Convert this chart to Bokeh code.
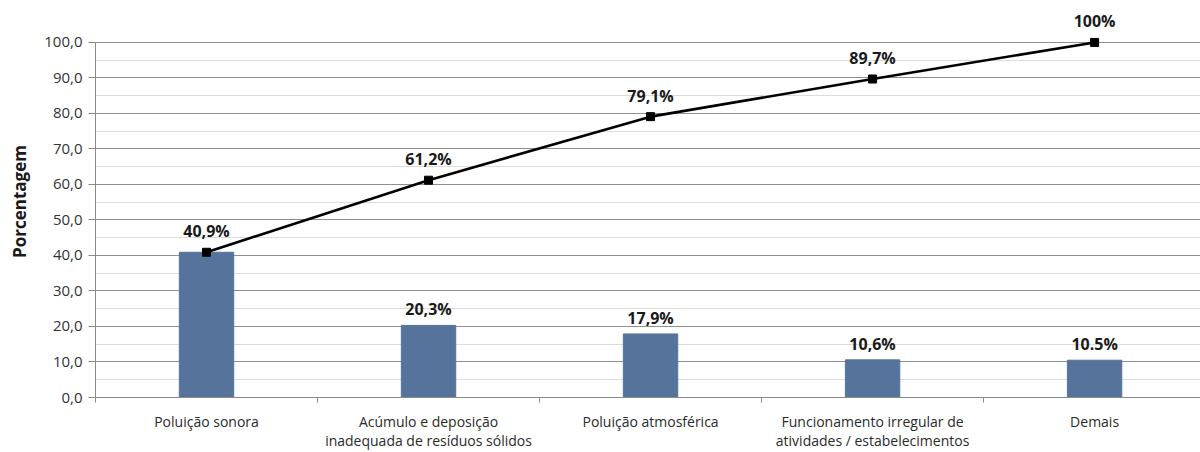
from bokeh.plotting import figure
from bokeh.models import Range1d, FixedTicker, ColumnDataSource, LabelSet
from bokeh.core.properties import value
from bokeh.embed import file_html
from bokeh.resources import INLINE

# Pareto data: share of complaints per category and running total (%)
categories = [
    "Poluição sonora",
    "Acúmulo e deposição\ninadequada de resíduos sólidos",
    "Poluição atmosférica",
    "Funcionamento irregular de\natividades / estabelecimentos",
    "Demais",
]
shares = [40.9, 20.3, 17.9, 10.6, 10.5]
share_labels = ["", "20,3%", "17,9%", "10,6%", "10.5%"]
cumulative = [40.9, 61.2, 79.1, 89.7, 100.0]
cumulative_labels = ["40,9%", "61,2%", "79,1%", "89,7%", "100%"]
y_ticks = [0, 10, 20, 30, 40, 50, 60, 70, 80, 90, 100]
y_tick_labels = ["0,0", "10,0", "20,0", "30,0", "40,0", "50,0",
                 "60,0", "70,0", "80,0", "90,0", "100,0"]

FONT = "Open Sans"
positions = [i + 0.5 for i in range(len(categories))]

src = ColumnDataSource(dict(
    x=positions, share=shares, share_label=share_labels,
    cum=cumulative, cum_label=cumulative_labels,
))

p = figure(
    width=1200, height=452,
    x_range=Range1d(0, 4.977), y_range=Range1d(0, 110.4),
    output_backend="svg", toolbar_location=None,
    min_border_left=95, min_border_right=0,
    min_border_top=5, min_border_bottom=55,
)
p.outline_line_color = None
p.background_fill_color = "white"

# grid: darker major lines, light minor lines every 5
p.xgrid.visible = False
p.ygrid.grid_line_color = "#8f8f8f"
p.ygrid.grid_line_width = 1
p.ygrid.minor_grid_line_color = "#dcdcdc"

# y axis
p.yaxis.ticker = FixedTicker(ticks=y_ticks, minor_ticks=[t + 5 for t in y_ticks[:-1]])
p.yaxis.major_label_overrides = {t: s for t, s in zip(y_ticks, y_tick_labels)}
p.yaxis.bounds = (0, 100)
p.yaxis.axis_line_color = "#8a8a8a"
p.yaxis.major_tick_line_color = "#8a8a8a"
p.yaxis.major_tick_out = 7
p.yaxis.major_tick_in = 0
p.yaxis.minor_tick_line_color = None
p.yaxis.major_label_text_font = FONT
p.yaxis.major_label_text_font_size = "15px"
p.yaxis.major_label_text_color = "#333333"
p.yaxis.major_label_standoff = 6
p.yaxis.axis_label = "Porcentagem"
p.yaxis.axis_label_text_font = FONT
p.yaxis.axis_label_text_font_size = "17px"
p.yaxis.axis_label_text_font_style = "bold"
p.yaxis.axis_label_text_color = "#1a1a1a"
p.yaxis.axis_label_standoff = 10

# x axis: category names centred, small ticks on category boundaries
p.xaxis.ticker = FixedTicker(ticks=positions, minor_ticks=list(range(len(categories) + 1)))
p.xaxis.major_label_overrides = {x: c for x, c in zip(positions, categories)}
p.xaxis.axis_line_color = "#8a8a8a"
p.xaxis.major_tick_line_color = None
p.xaxis.minor_tick_line_color = "#8a8a8a"
p.xaxis.minor_tick_out = 5
p.xaxis.minor_tick_in = 0
p.xaxis.major_label_text_font = FONT
p.xaxis.major_label_text_font_size = "14px"
p.xaxis.major_label_text_line_height = 1.0
p.xaxis.major_label_text_color = "#2a2a2a"
p.xaxis.major_label_standoff = 8

# bars
p.vbar(x="x", top="share", bottom=0, width=0.245, source=src,
       fill_color="#56739b", line_color="#56739b")

# cumulative line
p.line(x="x", y="cum", source=src, line_color="black", line_width=2.6)
p.scatter(x="x", y="cum", source=src, marker="square", size=8,
          fill_color="black", line_color="black")

p.add_layout(LabelSet(x="x", y="share", text="share_label", source=src,
                      text_align="center", text_baseline="bottom", y_offset=5,
                      text_font=value(FONT), text_font_size="16px",
                      text_font_style="bold", text_color="#1a1a1a"))
p.add_layout(LabelSet(x="x", y="cum", text="cum_label", source=src,
                      text_align="center", text_baseline="bottom", y_offset=10,
                      text_font=value(FONT), text_font_size="16px",
                      text_font_style="bold", text_color="#1a1a1a"))

open("out.html", "w").write(file_html(p, INLINE))
